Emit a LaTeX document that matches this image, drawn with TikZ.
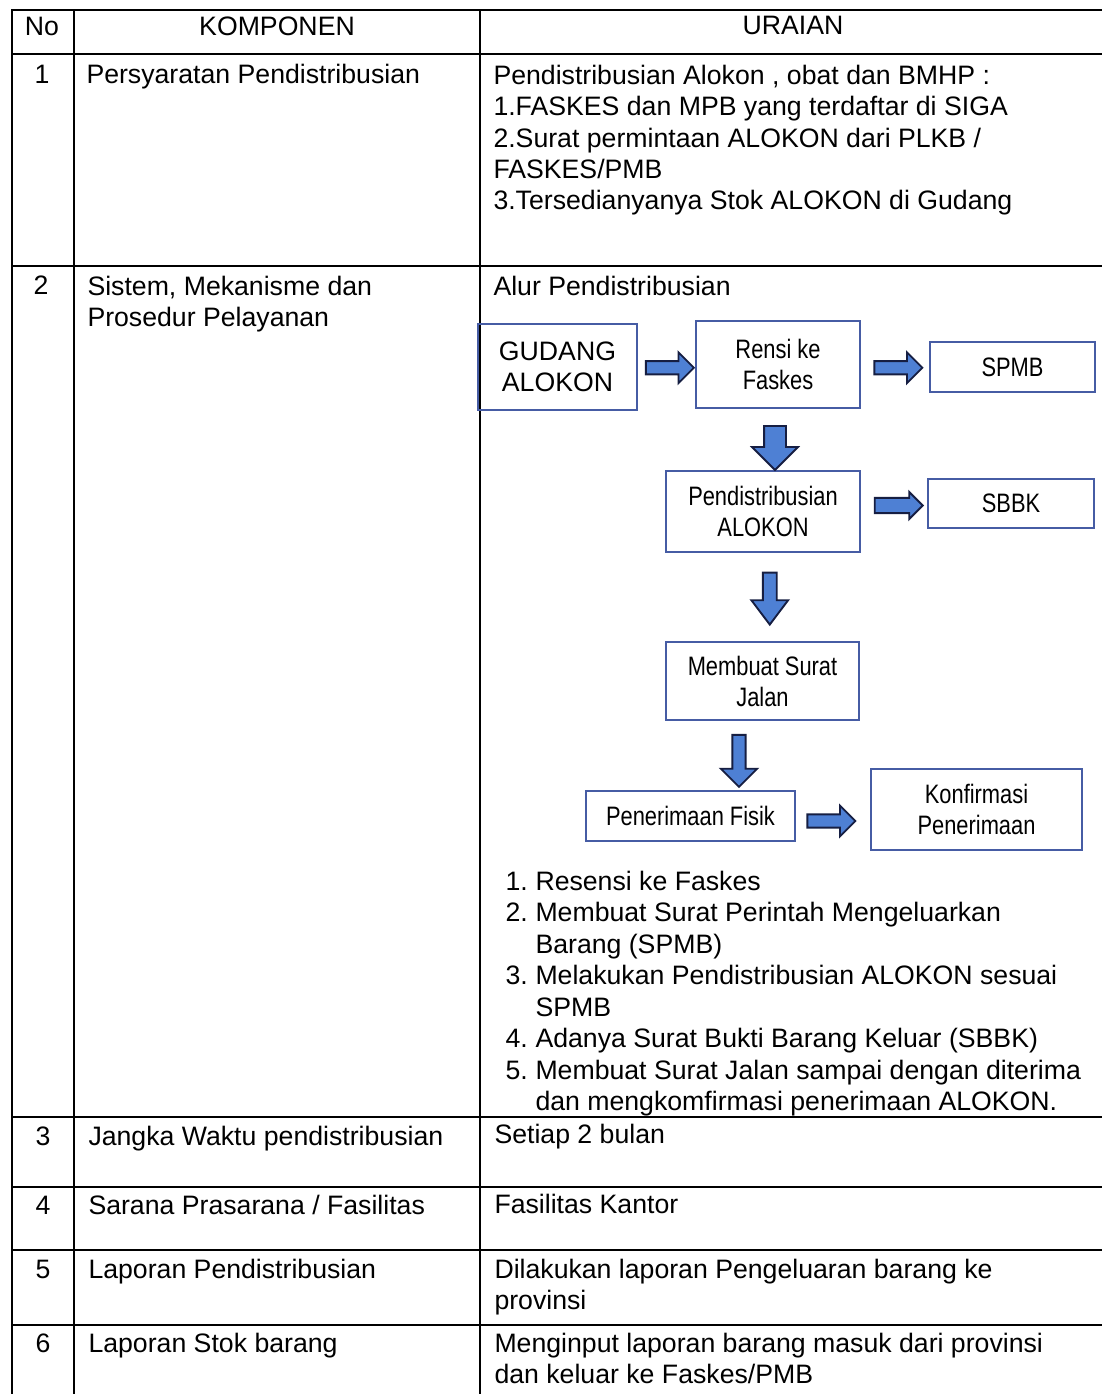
\documentclass[tikz,border=0pt]{standalone}
\usepackage{fontspec}
\setmainfont{Liberation Sans}
\newfontfamily\narrowfont[FakeStretch=0.82]{Liberation Sans}
\usetikzlibrary{shapes.arrows,calc}
\definecolor{arrowblue}{RGB}{78,128,212}
\definecolor{arrowedge}{RGB}{22,30,66}
\definecolor{boxblue}{RGB}{70,92,164}
\newcommand{\stepnum}[1]{\makebox[22.5pt][l]{#1}}
\tikzset{every picture/.style={line width=0.75pt}}
\tikzset{
tableline/.style={line width=1.5pt, line cap=rect},
celltext/.style={font=\fontsize{20}{23.6}\selectfont, anchor=base west, inner sep=0pt, align=left},
cellnum/.style={font=\fontsize{20}{23.6}\selectfont, anchor=base, inner sep=0pt},
flowbox/.style={draw=boxblue, line width=1.3pt, align=center, inner sep=0pt, font=\narrowfont\fontsize{20}{23.3}\selectfont},
rarrow/.style={single arrow, draw=arrowedge, fill=arrowblue, line width=1.4pt, inner sep=0pt, inner ysep=4.3pt, single arrow head extend=6.5pt, minimum height=36pt},
darrow/.style={rarrow, rotate=-90}
}

\begin{document}
\begin{tikzpicture}[x=0.75pt,y=0.75pt,yscale=-1,xscale=1]
\useasboundingbox (0,0) rectangle (1101,1394);

%Table grid
\draw [tableline] (12,10) -- (1101,10) ;
\draw [tableline] (12,54) -- (1101,54) ;
\draw [tableline] (12,266) -- (1101,266) ;
\draw [tableline] (12,1117) -- (1101,1117) ;
\draw [tableline] (12,1187) -- (1101,1187) ;
\draw [tableline] (12,1250) -- (1101,1250) ;
\draw [tableline] (12,1325) -- (1101,1325) ;
\draw [tableline] (12,10) -- (12,1394) ;
\draw [tableline] (74,10) -- (74,1394) ;
\draw [tableline] (480,10) -- (480,1394) ;

% Header
\node [cellnum] (hno) at (42,36) {No};
\node [cellnum] (hkomp) at (277,36) {KOMPONEN};
\node [cellnum] (hurai) at (793,35) {URAIAN};

% Row 1 (multi-line nodes sit on the baseline of their last line)
\node [cellnum] (n1) at (42,84) {1};
\node [celltext] (k1) at (86,84) {Persyaratan Pendistribusian};
\node [celltext] (u1) at (493,210) {Pendistribusian Alokon , obat dan BMHP :\\1.FASKES dan MPB yang terdaftar di SIGA\\2.Surat permintaan ALOKON dari PLKB /\\FASKES/PMB\\3.Tersedianyanya Stok ALOKON di Gudang};

% Row 2
\node [cellnum] (n2) at (41,295) {2};
\node [celltext] (k2) at (87,326.5) {Sistem, Mekanisme dan\\Prosedur Pelayanan};
\node [celltext] (u2) at (493,296) {Alur Pendistribusian};

%Flow boxes
\node [flowbox, minimum width=119.25pt, minimum height=64.5pt, font=\fontsize{20}{23.3}\selectfont] (gudang) at (557.5,367) {GUDANG\\ALOKON};
\node [flowbox, minimum width=123pt, minimum height=65.25pt] (rensi) at (778,364.5) {Rensi ke\\Faskes};
\node [flowbox, minimum width=123.75pt, minimum height=37.5pt] (spmb) at (1012.5,367) {SPMB};
\node [flowbox, minimum width=145.5pt, minimum height=60.75pt] (distrib) at (763,511.5) {Pendistribusian\\ALOKON};
\node [flowbox, minimum width=124.5pt, minimum height=36.75pt] (sbbk) at (1011,503.5) {SBBK};
\node [flowbox, minimum width=144.75pt, minimum height=58.5pt] (surat) at (762.5,681) {Membuat Surat\\Jalan};
\node [flowbox, minimum width=156.75pt, minimum height=37.5pt] (fisik) at (690.5,816) {Penerimaan Fisik};
\node [flowbox, minimum width=158.25pt, minimum height=60.75pt] (konfirm) at (976.5,809.5) {Konfirmasi\\Penerimaan};

%Block arrows
\node [rarrow] (a1) at ($(gudang.east)!.5!(rensi.west)+(0,2)$) {};
\node [rarrow] (a2) at ($(rensi.east)!.5!(spmb.west)+(0,2)$) {};
\node [darrow, inner ysep=7.5pt, single arrow head extend=9pt, minimum height=33pt] (a3) at ($(rensi.south)!.5!(distrib.north)+(4.5,3)$) {};
\node [rarrow, inner ysep=5pt, single arrow head extend=4.5pt] (a4) at ($(distrib.east)!.5!(sbbk.west)+(1,-2)$) {};
\node [darrow, inner ysep=4.5pt, single arrow head extend=8.6pt, minimum height=39pt, single arrow tip angle=74] (a5) at ($(distrib.south)!.5!(surat.north)+(7,-3)$) {};
\node [darrow, single arrow head extend=8.6pt, minimum height=39pt] (a6) at ($(surat.south)!.5!(fisik.north)+(12.5,2)$) {};
\node [rarrow] (a7) at ($(fisik.east)!.5!(konfirm.west |- fisik.east)+(-5,5)$) {};

% Steps list
\node [celltext] (steps) at (505,1110.5) {\stepnum{1.}Resensi ke Faskes\\\stepnum{2.}Membuat Surat Perintah Mengeluarkan\\\stepnum{}Barang (SPMB)\\\stepnum{3.}Melakukan Pendistribusian ALOKON sesuai\\\stepnum{}SPMB\\\stepnum{4.}Adanya Surat Bukti Barang Keluar (SBBK)\\\stepnum{5.}Membuat Surat Jalan sampai dengan diterima\\\stepnum{}dan mengkomfirmasi penerimaan ALOKON.};

% Row 3
\node [cellnum] (n3) at (43,1145) {3};
\node [celltext] (k3) at (88,1145) {Jangka Waktu pendistribusian};
\node [celltext] (u3) at (494,1143) {Setiap 2 bulan};

% Row 4
\node [cellnum] (n4) at (43,1214) {4};
\node [celltext] (k4) at (88,1214) {Sarana Prasarana / Fasilitas};
\node [celltext] (u4) at (494,1213) {Fasilitas Kantor};

% Row 5
\node [cellnum] (n5) at (43,1278) {5};
\node [celltext] (k5) at (88,1278) {Laporan Pendistribusian};
\node [celltext] (u5) at (494,1309.5) {Dilakukan laporan Pengeluaran barang ke\\provinsi};

% Row 6
\node [cellnum] (n6) at (43,1352) {6};
\node [celltext] (k6) at (88,1352) {Laporan Stok barang};
\node [celltext] (u6) at (494,1383.5) {Menginput laporan barang masuk dari provinsi\\dan keluar ke Faskes/PMB};

\end{tikzpicture}
\end{document}
